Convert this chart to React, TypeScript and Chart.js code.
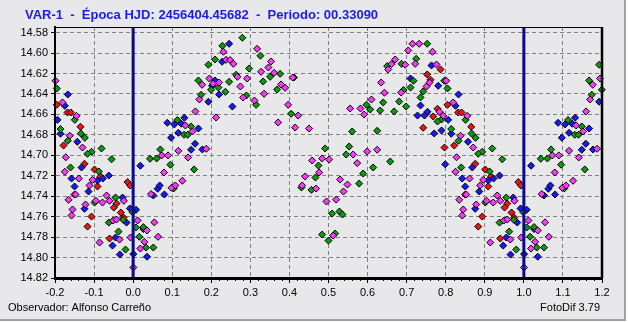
import { useEffect, useRef } from "react";
import { Chart, registerables } from "chart.js";

Chart.register(...registerables);

// ---- texts ----
const TITLE = "VAR-1  -  Época HJD: 2456404.45682  -  Periodo: 00.33090";
const OBSERVER = "Observador: Alfonso Carreño";
const SOFTWARE = "FotoDif 3.79";

// ---- axes ----
const X_MIN = -0.2;
const X_MAX = 1.2;
const Y_TOP = 14.5745;
const Y_BOTTOM = 14.82;
const xTicks = [-0.2, -0.1, 0.0, 0.1, 0.2, 0.3, 0.4, 0.5, 0.6, 0.7, 0.8, 0.9, 1.0, 1.1, 1.2];
const yTicks = [14.58, 14.6, 14.62, 14.64, 14.66, 14.68, 14.7, 14.72, 14.74, 14.76, 14.78, 14.8, 14.82];
const epochPhases = [0, 1];

// ---- observations: [phase, magnitude] (phase 0..1, folded copies added) ----
const magentaObs: [number, number][] = [
  [0.0458, 14.7379], [0.073, 14.7001], [0.0791, 14.7168], [0.0894, 14.7001], [0.0983, 14.7318],
  [0.108, 14.7295], [0.1157, 14.6956], [0.126, 14.7249], [0.1337, 14.6708], [0.1406, 14.7021],
  [0.1516, 14.6767], [0.1593, 14.6571], [0.1695, 14.6454], [0.1764, 14.631], [0.1874, 14.6936],
  [0.0115, 14.7637], [0.0356, 14.7735], [0.0543, 14.7656], [0.0638, 14.7797], [0.0287, 14.7846],
  [0.0184, 14.7912], [0.0005, 14.8097],
  [0.1951, 14.6249], [0.2046, 14.63], [0.2123, 14.663], [0.22, 14.6288], [0.2745, 14.6327],
  [0.2668, 14.6232], [0.2917, 14.6249], [0.2814, 14.6434], [0.3104, 14.6464], [0.3352, 14.6398],
  [0.3275, 14.6183], [0.3462, 14.6141], [0.3608, 14.6193], [0.3787, 14.6307], [0.389, 14.634],
  [0.3531, 14.6082], [0.3173, 14.5958], [0.231, 14.5987], [0.2379, 14.6066], [0.2481, 14.6068],
  [0.2566, 14.6105], [0.4085, 14.6239], [0.3967, 14.6506], [0.4223, 14.6611], [0.3711, 14.6679],
  [0.4146, 14.6728], [0.4504, 14.6738], [0.4581, 14.7051], [0.4837, 14.7031], [0.5017, 14.7041],
  [0.4761, 14.7168], [0.4402, 14.7207], [0.4325, 14.7295], [0.4684, 14.7325], [0.4948, 14.7452],
  [0.5196, 14.7433], [0.5119, 14.7785], [0.5631, 14.6992], [0.5298, 14.7237], [0.5485, 14.7286],
  [0.5383, 14.7354], [0.5554, 14.6542], [0.5734, 14.7076],
  [0.5818, 14.6542], [0.5913, 14.6601], [0.61, 14.6454], [0.599, 14.6963], [0.6246, 14.6946],
  [0.6433, 14.6388], [0.6348, 14.6288], [0.686, 14.6386], [0.6527, 14.616], [0.6612, 14.6108],
  [0.6707, 14.6063], [0.6963, 14.6114], [0.7219, 14.6105], [0.704, 14.5975], [0.715, 14.5909],
  [0.7321, 14.5909], [0.7662, 14.5987], [0.7764, 14.6112], [0.7585, 14.6288], [0.7508, 14.6327],
  [0.8013, 14.6271], [0.8192, 14.6483], [0.7841, 14.6574], [0.7936, 14.6614], [0.855, 14.6614],
  [0.8379, 14.6809], [0.8704, 14.6924], [0.8277, 14.7019],
  [0.8251, 14.7161], [0.861, 14.7227], [0.896, 14.724], [0.8883, 14.7295], [0.8525, 14.7384],
  [0.8346, 14.7435], [0.8781, 14.7481], [0.9045, 14.7445], [0.9216, 14.7462], [0.9319, 14.7393],
  [0.9762, 14.7445], [0.9396, 14.7445], [0.8448, 14.753], [0.8423, 14.7589], [0.9488, 14.7638],
  [0.9575, 14.7628], [0.9652, 14.7824], [0.9933, 14.7804], [0.914, 14.7853],
];

const greenObs: [number, number][] = [
  [0.0433, 14.7034], [0.0602, 14.7031], [0.0697, 14.6943], [0.0953, 14.7092], [0.1037, 14.7324],
  [0.1132, 14.6655], [0.1303, 14.6799], [0.1396, 14.6799], [0.1483, 14.6718], [0.156, 14.7138],
  [0.167, 14.6268], [0.1739, 14.6408], [0.0074, 14.7706], [0.0261, 14.7702], [0.0159, 14.7797],
  [0.033, 14.7902], [0.0517, 14.7902],
  [0.1995, 14.6359], [0.2182, 14.6337], [0.2361, 14.6379], [0.2456, 14.6281], [0.2635, 14.6212],
  [0.2968, 14.6151], [0.2899, 14.6415], [0.3147, 14.6506], [0.3327, 14.6278], [0.3506, 14.6232],
  [0.3762, 14.6203], [0.3685, 14.6356], [0.3257, 14.6026], [0.2796, 14.585], [0.2284, 14.5929],
  [0.2097, 14.6063], [0.1926, 14.6114], [0.4115, 14.6239], [0.4043, 14.6594], [0.4914, 14.6933],
  [0.4743, 14.71], [0.4666, 14.7217], [0.4307, 14.7315], [0.4563, 14.7338], [0.5093, 14.757],
  [0.528, 14.755], [0.5357, 14.7579], [0.4837, 14.7775], [0.517, 14.7765], [0.4999, 14.7834],
  [0.5529, 14.6914], [0.5452, 14.6992], [0.5606, 14.6767],
  [0.5972, 14.6506], [0.6067, 14.6552], [0.64, 14.6483], [0.6323, 14.6562], [0.6681, 14.6571],
  [0.6246, 14.676], [0.6809, 14.6474], [0.6988, 14.6523], [0.6919, 14.6362], [0.7099, 14.6337],
  [0.7175, 14.6271], [0.6502, 14.6127], [0.6868, 14.6105], [0.7245, 14.6056], [0.7526, 14.5909],
  [0.7424, 14.6376], [0.7355, 14.6434], [0.7962, 14.6271], [0.8046, 14.6346], [0.7892, 14.665],
  [0.779, 14.6669], [0.8507, 14.6653], [0.8141, 14.6743], [0.8328, 14.6858], [0.8763, 14.6829],
  [0.8661, 14.6787], [0.8935, 14.6966], [0.8832, 14.6985], [0.9191, 14.6933], [0.9447, 14.7039],
  [0.6579, 14.7061], [0.6143, 14.7119], [0.5887, 14.7178], [0.5785, 14.7276],
  [0.8397, 14.7119], [0.9122, 14.7158], [0.9012, 14.7462], [0.9549, 14.7413], [0.9985, 14.7556],
  [0.9378, 14.7658], [0.9744, 14.7631], [0.9626, 14.7746], [0.9805, 14.7922],
];

const blueObs: [number, number][] = [
  [0.0184, 14.7102], [0.0517, 14.7393], [0.0799, 14.7383], [0.0876, 14.6682], [0.0971, 14.6828],
  [0.1055, 14.6698], [0.1157, 14.678], [0.1234, 14.6691], [0.1311, 14.6633], [0.1483, 14.6946],
  [0.1585, 14.6887], [0.167, 14.6738], [0.1772, 14.6943], [0.1926, 14.6476], [0.0627, 14.7327],
  [0.0679, 14.7295], [0.0074, 14.7533], [0.0261, 14.7721], [0.0356, 14.7992], [0.0005, 14.7966],
  [0.254, 14.6523], [0.2097, 14.6268], [0.202, 14.632], [0.22, 14.6405], [0.2456, 14.5909],
  [0.2277, 14.6085],
  [0.7099, 14.6249], [0.7636, 14.6121], [0.7808, 14.632], [0.8328, 14.6405], [0.7355, 14.6513],
  [0.8251, 14.6516], [0.7534, 14.6574], [0.7278, 14.6611], [0.7457, 14.6611], [0.8064, 14.6653],
  [0.7705, 14.6786], [0.7893, 14.6757], [0.8141, 14.6789], [0.8571, 14.6868], [0.7987, 14.7088],
  [0.8679, 14.7119], [0.8423, 14.7227], [0.9088, 14.7247], [0.9224, 14.7227], [0.9378, 14.7198],
  [0.85, 14.7305], [0.8858, 14.7354], [0.8755, 14.7523], [0.9729, 14.7413], [0.9916, 14.752],
  [0.9831, 14.7658], [0.9549, 14.7804], [0.9472, 14.7883], [0.9659, 14.7971],
];

const redObs: [number, number][] = [
  [0.7867, 14.616], [0.7526, 14.6209], [0.7611, 14.6261], [0.8046, 14.6506], [0.779, 14.6545],
  [0.768, 14.662], [0.832, 14.6581], [0.8405, 14.6581], [0.7424, 14.6731], [0.8653, 14.6721],
  [0.7969, 14.6924], [0.8218, 14.6904],
  [0.8755, 14.7083], [0.9012, 14.7139], [0.9165, 14.7207], [0.9088, 14.7305], [0.85, 14.7384],
  [0.9575, 14.7472], [0.9506, 14.7511], [0.9857, 14.7262], [0.9923, 14.7295], [0.8935, 14.7599],
  [0.9685, 14.756], [0.9754, 14.7609], [0.8832, 14.7697], [0.9396, 14.7814],
];

// ---- styles ----
const BG = "#e8e8eb";
const FONT = '"Liberation Sans", Arial, sans-serif';

function fold(obs: [number, number][]) {
  const out: { x: number; y: number }[] = [];
  for (const [p, m] of obs) {
    out.push({ x: p, y: m });
    if (p >= 0.8) out.push({ x: p - 1, y: m });
    if (p < 0.2) out.push({ x: p + 1, y: m });
  }
  return out;
}

function pointSet(label: string, obs: [number, number][], color: string, order: number) {
  return {
    label,
    data: fold(obs),
    showLine: false,
    pointStyle: "rectRot",
    pointRadius: 3.5,
    pointHoverRadius: 3.5,
    pointBackgroundColor: color,
    pointBorderColor: "#000000",
    pointBorderWidth: 1,
    order,
    clip: false,
  };
}

const decorPlugin = {
  id: "decor",
  beforeDraw(chart: any) {
    const { ctx, width, height } = chart;
    ctx.save();
    ctx.fillStyle = "#ffffff";
    ctx.fillRect(0, 0, width, height);
    ctx.fillStyle = BG;
    ctx.fillRect(0, 0, 624, 319);
    ctx.fillStyle = "#a0a0a0";
    ctx.fillRect(624, 0, 2, 321);
    ctx.fillRect(0, 319, 626, 2);
    ctx.restore();
  },
  afterDraw(chart: any) {
    const { ctx, chartArea: a } = chart;
    const xs = chart.scales.x;
    ctx.save();
    ctx.strokeStyle = "#000000";
    // top and right frame
    ctx.lineWidth = 1;
    ctx.beginPath();
    ctx.moveTo(a.left, a.top + 0.5);
    ctx.lineTo(a.right, a.top + 0.5);
    ctx.stroke();
    ctx.lineWidth = 2.5;
    ctx.beginPath();
    ctx.moveTo(a.right, a.top);
    ctx.lineTo(a.right, a.bottom);
    ctx.stroke();
    // minor ticks on the x axis
    ctx.lineWidth = 1;
    for (let i = 0; i < xTicks.length - 1; i++) {
      for (let k = 1; k < 5; k++) {
        const v = xTicks[i] + ((xTicks[i + 1] - xTicks[i]) * k) / 5;
        const px = Math.round(xs.getPixelForValue(v)) + 0.5;
        ctx.beginPath();
        ctx.moveTo(px, a.bottom);
        ctx.lineTo(px, a.bottom + 3);
        ctx.stroke();
      }
    }
    // texts
    ctx.fillStyle = "#1c1ce6";
    ctx.font = `bold 13px ${FONT}`;
    ctx.textAlign = "left";
    ctx.textBaseline = "alphabetic";
    ctx.fillText(TITLE, 25, 19);
    ctx.fillStyle = "#000000";
    ctx.font = `11px ${FONT}`;
    ctx.fillText(OBSERVER, 8, 311);
    ctx.textAlign = "right";
    ctx.fillText(SOFTWARE, 600, 311);
    ctx.restore();
  },
};

export default function App() {
  const ref = useRef<HTMLCanvasElement | null>(null);

  useEffect(() => {
    if (!ref.current) return;
    const epochSets = epochPhases.map((ph) => ({
      label: `epoch ${ph}`,
      data: [
        { x: ph, y: Y_TOP },
        { x: ph, y: Y_BOTTOM },
      ],
      showLine: true,
      borderColor: "#0a0a86",
      borderWidth: 3,
      pointRadius: 0,
      pointHoverRadius: 0,
      order: 0,
      clip: false,
    }));
    const chart = new Chart(ref.current, {
      type: "scatter",
      data: {
        datasets: [
          ...epochSets,
          pointSet("magenta", magentaObs, "#ff38ff", 1),
          pointSet("green", greenObs, "#0a9c0a", 2),
          pointSet("blue", blueObs, "#1818ff", 3),
          pointSet("red", redObs, "#f01414", 4),
        ] as any,
      },
      options: {
        animation: false,
        responsive: false,
        devicePixelRatio: 1,
        layout: { padding: { left: 0, right: 26, top: 27, bottom: 0 } },
        plugins: {
          legend: { display: false },
          tooltip: { enabled: false },
          title: { display: false },
        },
        scales: {
          x: {
            type: "linear",
            min: X_MIN,
            max: X_MAX,
            afterBuildTicks: (s: any) => {
              s.ticks = xTicks.map((v) => ({ value: v }));
            },
            afterFit: (s: any) => {
              s.height = 45;
            },
            ticks: {
              autoSkip: false,
              maxRotation: 0,
              padding: 3,
              color: "#000000",
              font: { family: FONT, size: 11 },
              callback: (v: any) => Number(v).toFixed(1),
            },
            grid: {
              color: "#808080",
              lineWidth: 1,
              drawTicks: true,
              tickLength: 5,
              tickColor: "#000000",
              tickWidth: 1,
            },
            border: { display: true, color: "#000000", width: 3, dash: [4, 3], z: 1 },
          },
          y: {
            type: "linear",
            reverse: true,
            min: Y_TOP,
            max: Y_BOTTOM,
            afterBuildTicks: (s: any) => {
              s.ticks = yTicks.map((v) => ({ value: v }));
            },
            afterFit: (s: any) => {
              s.width = 55;
            },
            ticks: {
              autoSkip: false,
              padding: 3,
              color: "#000000",
              font: { family: FONT, size: 11 },
              callback: (v: any) => Number(v).toFixed(2),
            },
            grid: {
              color: "#808080",
              lineWidth: 1,
              drawTicks: true,
              tickLength: 4,
              tickColor: "#000000",
              tickWidth: 1,
            },
            border: { display: true, color: "#000000", width: 2, dash: [4, 3], z: 1 },
          },
        },
      } as any,
      plugins: [decorPlugin],
    });
    return () => chart.destroy();
  }, []);

  return (
    <div style={{ position: "fixed", left: 0, top: 0, width: 628, height: 323 }}>
      <canvas ref={ref} width={628} height={323} style={{ display: "block" }} />
    </div>
  );
}
